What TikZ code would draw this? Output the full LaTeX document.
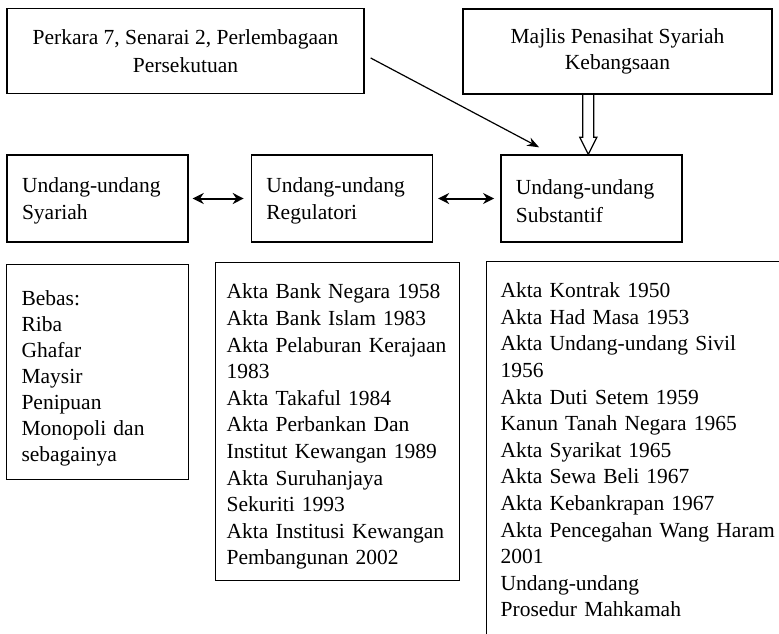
\documentclass[tikz,border=0pt]{standalone}
\usepackage{fontspec}
\setmainfont{Liberation Serif}
\usetikzlibrary{arrows.meta}
\usetikzlibrary{calc}
\usetikzlibrary{positioning}

\tikzset{
  kotak/.style={draw, line width=1.4pt, font=\fontsize{21.5}{27.5}\selectfont},
  tajuk/.style={kotak, align=center, minimum height=85pt},
  undang/.style={kotak, align=left, text width=151pt, inner xsep=15pt, minimum height=87pt},
  senarai/.style={kotak, align=left, inner xsep=13pt, font=\fontsize{21.5}{26.6}\selectfont},
  panah/.style={-{Stealth[length=12pt,width=9pt]}, line width=1.2pt},
  duaarah/.style={{Stealth[length=11pt,width=11pt]}-{Stealth[length=11pt,width=11pt]}, line width=2pt},
}

\begin{document}
\begin{tikzpicture}[x=1pt, y=1pt]
        \useasboundingbox (0,0) rectangle (779,-633);
        \clip (0,0) rectangle (779,-633);

        \node[tajuk, minimum width=357pt] (perkara) at (185.5,-51) {Perkara 7, Senarai 2, Perlembagaan\\Persekutuan};
        \node[tajuk, minimum width=309pt, font=\fontsize{21.5}{26.5}\selectfont] (majlis) at (617.5,-51.5) {Majlis Penasihat Syariah\\Kebangsaan};

        \node[undang] (syariah) at (97.5,-198.5) {\rule{0pt}{20pt}Undang-undang\\Syariah};
        \node[undang, right=62pt of syariah] (regulatori) {\rule{0pt}{20pt}Undang-undang\\Regulatori};
        \node[undang, right=67pt of regulatori] (substantif) {\rule{0pt}{20pt}Undang-undang\\Substantif};

        \node[senarai, below=21pt of syariah, text width=152pt, inner xsep=15pt, minimum height=215pt,
              font=\fontsize{21.5}{26}\selectfont] (bebas)
              {\rule{0pt}{28pt}Bebas:\\Riba\\Ghafar\\Maysir\\Penipuan\\Monopoli dan\\sebagainya};
        \node[senarai, anchor=north west, text width=222pt, inner xsep=11pt, minimum height=318pt] (akta) at (215,-262)
              {\rule{0pt}{25pt}Akta Bank Negara 1958\\Akta Bank Islam 1983\\Akta Pelaburan Kerajaan\\1983\\Akta Takaful 1984\\
               Akta Perbankan Dan\\Institut Kewangan 1989\\Akta Suruhanjaya\\Sekuriti 1993\\
               Akta Institusi Kewangan\\Pembangunan 2002};
        % kotak ini terpotong di tepi kanan dan bawah
        \node[senarai, anchor=north west, text width=312pt, inner xsep=14pt, inner ysep=21pt] (kontrak) at (486,-261)
              {Akta Kontrak 1950\\Akta Had Masa 1953\\Akta Undang-undang Sivil\\1956\\Akta Duti Setem 1959\\
               Kanun Tanah Negara 1965\\Akta Syarikat 1965\\Akta Sewa Beli 1967\\Akta Kebankrapan 1967\\
               Akta Pencegahan Wang Haram\\2001\\Undang-undang\\Prosedur Mahkamah\rule[-70pt]{0pt}{0pt}};

        \draw[duaarah, shorten <=4pt, shorten >=7pt] (syariah) -- (regulatori);
        \draw[duaarah, shorten <=5pt, shorten >=6pt] (regulatori) -- (substantif);

        \draw[panah] ([xshift=6pt,yshift=-7pt]perkara.east) -- ([xshift=39pt,yshift=7pt]substantif.north west);

        % anak panah berongga
        \coordinate (hujung) at ([xshift=-3pt]substantif.north);
        \draw[line width=1.2pt, line join=miter] ($(hujung |- majlis.south)+(-5.5,0)$) -- ($(hujung)+(-5.5,17)$)
            -- ($(hujung)+(-8.5,17)$) -- (hujung) -- ($(hujung)+(8.5,17)$) -- ($(hujung)+(5.5,17)$)
            -- ($(hujung |- majlis.south)+(5.5,0)$);
\end{tikzpicture}
\end{document}
